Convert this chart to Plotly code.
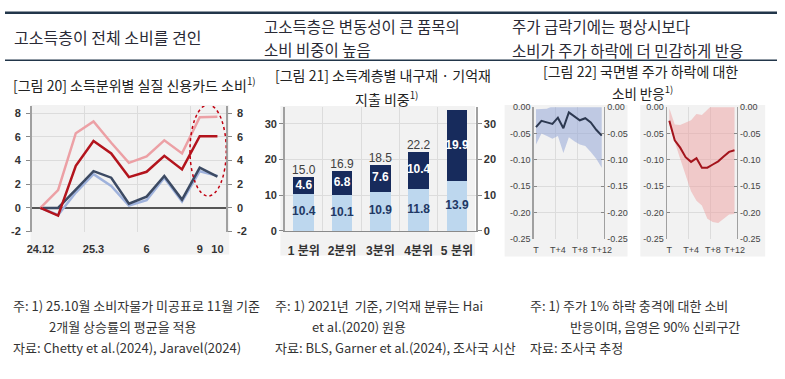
import plotly.graph_objects as go

W, H = 785, 379


def px(x):
    return x / W


def py(y):
    return 1 - y / H


# ---------------- data ----------------
# Figure 20: real credit card spending by income quantile
months = ["24.12", "25.1", "25.2", "25.3", "25.4", "25.5", "25.6", "25.7", "25.8", "25.9", "25.10"]
tick_months = ["24.12", "25.3", "25.6", "25.9", "25.10"]
tick_labels_c1 = ["24.12", "25.3", "6", "9", "10"]
top_light = [0, 1.5, 6.3, 7.3, 5.5, 3.8, 4.35, 5.7, 4.6, 7.65, 7.7]
top_dark = [0, -0.65, 3.55, 5.65, 4.6, 2.6, 3.05, 4.4, 3.25, 6.05, 6.05]
low_dark = [0, 0.0, 1.55, 3.1, 2.55, 0.35, 0.95, 2.7, 0.7, 3.4, 2.65]
low_light = [0, -0.6, 1.3, 2.85, 1.85, 0.2, 0.65, 2.55, 0.55, 3.1, 2.7]
c1_yticks = [-2, 0, 2, 4, 6, 8]

# Figure 21: durable / memorable goods spending share by income quintile
quintiles = ["1 분위", "2분위", "3분위", "4분위", "5 분위"]
durable = [10.4, 10.1, 10.9, 11.8, 13.9]
memorable = [4.6, 6.8, 7.6, 10.4, 19.9]
total_labels = ["15.0", "16.9", "18.5", "22.2", ""]
c2_yticks = [0, 10, 20, 30]

# Figure 22: consumption response to 1% stock price drop
horizons = list(range(13))
h_tickvals = [0, 4, 8, 12]
h_ticktext = ["T", "T+4", "T+8", "T+12"]
normal_resp = [-0.038, -0.026, -0.029, -0.032, -0.020, -0.040, -0.010, -0.018, -0.025, -0.021, -0.029, -0.043, -0.054]
normal_upper = [-0.004, -0.004, -0.003, 0.002, 0.010, 0.010, 0.020, 0.020, 0.020, 0.020, 0.020, 0.020, 0.020]
normal_lower = [-0.071, -0.050, -0.055, -0.060, -0.055, -0.087, -0.057, -0.065, -0.071, -0.074, -0.085, -0.098, -0.115]
crash_resp = [-0.026, -0.063, -0.077, -0.095, -0.104, -0.097, -0.115, -0.115, -0.109, -0.103, -0.094, -0.085, -0.082]
crash_upper = [-0.002, -0.033, -0.034, -0.030, -0.025, -0.013, -0.015, -0.005, 0.005, 0.010, 0.010, 0.010, 0.010]
crash_lower = [-0.034, -0.068, -0.098, -0.129, -0.160, -0.178, -0.187, -0.212, -0.218, -0.220, -0.212, -0.204, -0.203]
c3_yticks = [-0.25, -0.20, -0.15, -0.10, -0.05, 0.0]

# ---------------- styles ----------------
KR = "Noto Sans CJK KR"
NUM = "Liberation Sans, Noto Sans CJK KR"
TXT = "#333333"
GRID = "#dcdcdc"
BG = "#f2f2f2"

fig = go.Figure()

# ---------- chart 1 ----------
idx = list(range(len(months)))
for vals, col in [(low_light, "#9fb2dc"), (low_dark, "#3c4a63"), (top_light, "#eca0a5"), (top_dark, "#b3141d")]:
    fig.add_trace(go.Scatter(x=idx, y=vals, mode="lines", line=dict(color=col, width=2.5),
                             xaxis="x", yaxis="y", showlegend=False, hoverinfo="skip"))
fig.add_trace(go.Scatter(x=idx, y=top_dark, mode="lines", line=dict(width=0), opacity=0,
                         xaxis="x", yaxis="y2", showlegend=False, hoverinfo="skip"))

# ---------- chart 2 ----------
qidx = list(range(len(quintiles)))
totals = [a + b for a, b in zip(durable, memorable)]
fig.add_trace(go.Bar(x=qidx, y=durable, marker=dict(color="#bdd7ee", line=dict(width=0)), width=0.54,
                     xaxis="x2", yaxis="y3", showlegend=False, hoverinfo="skip"))
fig.add_trace(go.Bar(x=qidx, y=memorable, marker=dict(color="#172b5c", line=dict(width=0)), width=0.54,
                     xaxis="x2", yaxis="y3", showlegend=False, hoverinfo="skip"))
fig.add_trace(go.Scatter(x=qidx, y=[v / 2 for v in durable], mode="text",
                         text=[f"{v:.1f}" for v in durable], textposition="middle center",
                         textfont=dict(family=NUM, size=12, color="#1f3864", weight="bold"),
                         xaxis="x2", yaxis="y3", showlegend=False, hoverinfo="skip"))
fig.add_trace(go.Scatter(x=qidx, y=[a + b / 2 for a, b in zip(durable, memorable)], mode="text",
                         text=[f"{v:.1f}" for v in memorable], textposition="middle center",
                         textfont=dict(family=NUM, size=12, color="white", weight="bold"),
                         xaxis="x2", yaxis="y3", showlegend=False, hoverinfo="skip"))
fig.add_trace(go.Scatter(x=qidx, y=totals, mode="text", text=total_labels, textposition="top center",
                         textfont=dict(family=NUM, size=12, color="#404040"),
                         xaxis="x2", yaxis="y3", showlegend=False, hoverinfo="skip", cliponaxis=False))
fig.add_trace(go.Scatter(x=qidx, y=totals, mode="lines", line=dict(width=0), opacity=0,
                         xaxis="x2", yaxis="y4", showlegend=False, hoverinfo="skip"))

# ---------- chart 3 ----------
def band(xa, ya, ya_r, resp, upper, lower, fillcol, linecol):
    fig.add_trace(go.Scatter(x=horizons, y=upper, mode="lines", line=dict(width=0),
                             xaxis=xa, yaxis=ya, showlegend=False, hoverinfo="skip"))
    fig.add_trace(go.Scatter(x=horizons, y=lower, mode="lines", line=dict(width=0), fill="tonexty",
                             fillcolor=fillcol, xaxis=xa, yaxis=ya, showlegend=False, hoverinfo="skip"))
    fig.add_trace(go.Scatter(x=horizons, y=resp, mode="lines", line=dict(color=linecol, width=2),
                             xaxis=xa, yaxis=ya, showlegend=False, hoverinfo="skip"))
    fig.add_trace(go.Scatter(x=horizons, y=resp, mode="lines", line=dict(width=0), opacity=0,
                             xaxis=xa, yaxis=ya_r, showlegend=False, hoverinfo="skip"))


band("x3", "y5", "y6", normal_resp, normal_upper, normal_lower, "rgba(150,168,215,0.55)", "#2c3850")
band("x4", "y7", "y8", crash_resp, crash_upper, crash_lower, "rgba(238,160,160,0.5)", "#a3141c")

# ---------------- axes ----------------
numfont_b = dict(family=NUM, size=11, color=TXT, weight="bold")
smallfont = dict(family=NUM, size=9, color="#444444")


def yleft(domain, rng, tv, tt, anchor, font, ticks="outside", tl=4, grid=True, zl=False, so=0):
    return dict(domain=domain, range=rng, anchor=anchor, tickvals=tv, ticktext=tt, ticks=ticks, ticklen=tl,
                tickcolor="#888888", showline=True, linecolor="#a0a0a0", linewidth=1.5, showgrid=grid,
                gridcolor=GRID, gridwidth=1, zeroline=zl, zerolinecolor="#555555", zerolinewidth=1.2,
                tickfont=font, fixedrange=True, ticklabelstandoff=so)


def yright(over, rng, tv, tt, anchor, font, ticks="outside", tl=4, so=0):
    return dict(overlaying=over, side="right", range=rng, anchor=anchor, tickvals=tv, ticktext=tt,
                ticks=ticks, ticklen=tl, tickcolor="#888888", showline=True, linecolor="#a0a0a0",
                linewidth=1.5, showgrid=False, zeroline=False, tickfont=font, fixedrange=True,
                ticklabelstandoff=so)


c1_rng = [-2, 8.6]
c1_tt = [str(v) for v in c1_yticks]
c2_rng = [0, 34.7]
c2_tt = [str(v) for v in c2_yticks]
c3_rng = [-0.25, 0.0]
c3_tt = [f"{v:.2f}" for v in c3_yticks]

layout_axes = dict(
    xaxis=dict(domain=[px(27), px(225)], range=[-0.5, 10.5], anchor="y",
               tickvals=[months.index(m) for m in tick_months], ticktext=tick_labels_c1, ticks="",
               showgrid=False, zeroline=False, showline=False, tickfont=numfont_b, ticklabelstandoff=9,
               minor=dict(tickvals=[2.5, 5.5, 8.5], showgrid=True, gridcolor=GRID, ticks=""), fixedrange=True),
    yaxis=yleft([py(233.4), py(104)], c1_rng, c1_yticks, c1_tt, "x", numfont_b, zl=True, so=3),
    yaxis2=yright("y", c1_rng, c1_yticks, c1_tt, "x", numfont_b, so=3),

    xaxis2=dict(domain=[px(284.3), px(479)], range=[-0.5, 4.5], anchor="y3",
                tickvals=qidx, ticktext=quintiles, ticks="", showgrid=False, zeroline=False,
                showline=True, linecolor="#8a8a8a", linewidth=1.5, ticklabelstandoff=8,
                tickfont=dict(family=NUM, size=12, color=TXT, weight="bold"),
                minor=dict(tickvals=[0.5, 1.5, 2.5, 3.5], showgrid=True, gridcolor=GRID, ticks=""),
                fixedrange=True),
    yaxis3=yleft([py(232.7), py(105)], c2_rng, c2_yticks, c2_tt, "x2", numfont_b),
    yaxis4=yright("y3", c2_rng, c2_yticks, c2_tt, "x2", numfont_b),

    xaxis3=dict(domain=[px(537.7), px(609)], range=[-0.4, 12.4], anchor="y5",
                tickvals=h_tickvals, ticktext=h_ticktext, ticks="", showgrid=False, zeroline=False,
                showline=False, tickfont=smallfont, ticklabelstandoff=4,
                minor=dict(tickvals=[3.5, 7.5], showgrid=True, gridcolor=GRID, ticks=""), fixedrange=True),
    yaxis5=yleft([py(240.7), py(105.2)], c3_rng, c3_yticks, c3_tt, "x3", smallfont, ticks="inside", tl=3),
    yaxis6=yright("y5", c3_rng, c3_yticks, c3_tt, "x3", smallfont, ticks="inside", tl=3),

    xaxis4=dict(domain=[px(673.3), px(744)], range=[-0.4, 12.4], anchor="y7",
                tickvals=h_tickvals, ticktext=h_ticktext, ticks="", showgrid=False, zeroline=False,
                showline=False, tickfont=smallfont, ticklabelstandoff=4,
                minor=dict(tickvals=[3.5, 7.5], showgrid=True, gridcolor=GRID, ticks=""), fixedrange=True),
    yaxis7=yleft([py(240.7), py(105.2)], c3_rng, c3_yticks, c3_tt, "x4", smallfont, ticks="inside", tl=3),
    yaxis8=yright("y7", c3_rng, c3_yticks, c3_tt, "x4", smallfont, ticks="inside", tl=3),
)

# ---------------- shapes ----------------
shapes = []


def rect(x0, y0, x1, y1, color, layer="below"):
    shapes.append(dict(type="rect", xref="paper", yref="paper", x0=px(x0), x1=px(x1), y0=py(y1), y1=py(y0),
                       fillcolor=color, line=dict(width=0), layer=layer))


rect(26, 103, 228, 257, BG)
rect(280, 104, 478, 258, BG)
rect(508, 103, 633, 259, BG)
rect(646, 103, 773, 259, BG)

# header rules
for yy, wdt in [(8, 2.5), (57, 1.5)]:
    shapes.append(dict(type="line", xref="paper", yref="paper", x0=0, x1=1, y0=py(yy), y1=py(yy),
                       line=dict(color="#22364a", width=wdt)))

# dotted ellipse highlighting latest months
shapes.append(dict(type="circle", xref="x", yref="y", x0=8.45, x1=10.5, y0=1.0, y1=8.7,
                   line=dict(color="#c00010", width=1.5, dash="dot"), layer="above"))

# ---------------- annotations ----------------
ann = []


def text(x, y, s, size, anchor="left", color=TXT, weight="normal"):
    ann.append(dict(xref="paper", yref="paper", x=px(x), y=py(y), text=s, showarrow=False, align="center",
                    xanchor=anchor, yanchor="middle", font=dict(family=KR, size=size, color=color, weight=weight)))


# headers
text(7, 33, "고소득층이 전체 소비를 견인", 16, color="#2a2a35")
text(261, 22, "고소득층은 변동성이 큰 품목의", 15.5, color="#2a2a35")
text(261, 45, "소비 비중이 높음", 15.5, color="#2a2a35")
text(513, 22, "주가 급락기에는 평상시보다", 15.5, color="#2a2a35")
text(513, 46, "소비가 주가 하락에 더 민감하게 반응", 15.5, color="#2a2a35")

# figure titles
text(132, 82, "[그림 20] 소득분위별 실질 신용카드 소비<sup>1)</sup>", 14, "center", "#222222")
text(384, 72, "[그림 21] 소득계층별 내구재 · 기억재", 14, "center", "#222222")
text(388, 96, "지출 비중<sup>1)</sup>", 14, "center", "#222222")
text(646, 68, "[그림 22] 국면별 주가 하락에 대한", 14, "center", "#222222")
text(648, 90, "소비 반응<sup>1)</sup>", 13.5, "center", "#222222")

# footnotes
text(6, 309, "주: 1) 25.10월 소비자물가 미공표로 11월 기준", 13)
text(43, 331, "2개월 상승률의 평균을 적용", 13)
text(6, 353, "자료: Chetty et al.(2024), Jaravel(2024)", 13)
text(273, 309, "주: 1) 2021년  기준, 기억재 분류는 Hai", 13)
text(310, 331, "et al.(2020) 원용", 13)
text(273, 353, "자료: BLS, Garner et al.(2024), 조사국 시산", 13)
text(532, 309, "주: 1) 주가 1% 하락 충격에 대한 소비", 13)
text(572, 331, "반응이며, 음영은 90% 신뢰구간", 13)
text(532, 353, "자료: 조사국 추정", 13)

fig.update_layout(
    width=W, height=H, margin=dict(l=0, r=0, t=0, b=0),
    paper_bgcolor="white", plot_bgcolor="rgba(0,0,0,0)",
    barmode="stack", bargap=0.46, showlegend=False,
    shapes=shapes, annotations=ann, **layout_axes,
)

fig.write_html("out.html", config=dict(displayModeBar=False, staticPlot=True),
               post_script="document.body.style.margin='0px';document.body.style.overflow='hidden';")
